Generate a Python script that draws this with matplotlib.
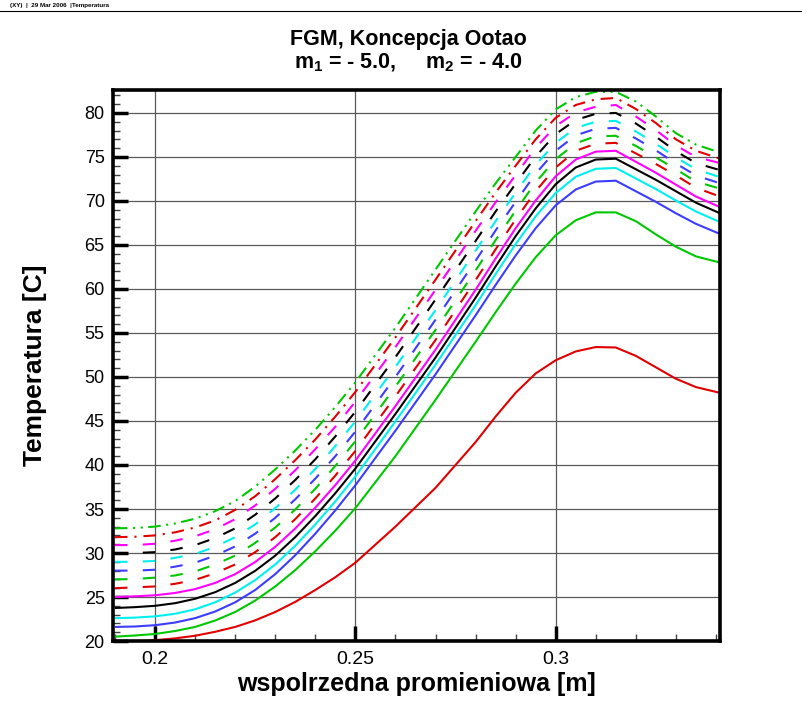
import matplotlib
matplotlib.use("Agg")
import matplotlib.pyplot as plt
from matplotlib.lines import Line2D
from matplotlib.ticker import MultipleLocator

plt.rcParams["font.family"] = ["Liberation Sans", "DejaVu Sans"]
plt.rcParams["mathtext.fontset"] = "custom"
plt.rcParams["mathtext.rm"] = "Liberation Sans:bold"
plt.rcParams["mathtext.it"] = "Liberation Sans:bold"
plt.rcParams["mathtext.bf"] = "Liberation Sans:bold"
plt.rcParams["lines.scale_dashes"] = False

# radial coordinate [m]
x = [0.19, 0.195, 0.20, 0.205, 0.21, 0.215, 0.22, 0.225, 0.23, 0.235, 0.24,
     0.245, 0.25, 0.26, 0.27, 0.28, 0.285, 0.29, 0.295, 0.30, 0.305, 0.31,
     0.315, 0.32, 0.325, 0.33, 0.335, 0.341]

# temperature profiles [C]
t_red = [19.8, 19.9, 20.1, 20.3, 20.6, 21.05, 21.6, 22.35, 23.3, 24.45, 25.8,
         27.25, 28.9, 33.0, 37.4, 42.6, 45.5, 48.2, 50.4, 51.9, 52.9, 53.4,
         53.35, 52.4, 51.1, 49.8, 48.85, 48.2]
t_green = [20.5, 20.63, 20.8, 21.14, 21.6, 22.33, 23.3, 24.6, 26.2, 28.06, 30.2,
           32.54, 35.1, 41.0, 47.4, 54.0, 57.35, 60.6, 63.6, 66.1, 67.8, 68.7,
           68.7, 67.7, 66.2, 64.8, 63.7, 63.0]
t_blue = [21.6, 21.65, 21.8, 22.1, 22.6, 23.35, 24.4, 25.8, 27.6, 29.75, 32.2,
          34.85, 37.7, 43.9, 50.3, 57.0, 60.45, 63.8, 66.9, 69.5, 71.3, 72.2,
          72.3, 71.1, 69.9, 68.6, 67.4, 66.25]
t_cyan = [22.6, 22.66, 22.8, 23.1, 23.6, 24.4, 25.5, 26.93, 28.7, 30.83, 33.25,
          35.87, 38.7, 44.95, 51.4, 58.15, 61.7, 65.1, 68.25, 70.9, 72.75, 73.65,
          73.75, 72.55, 71.35, 70.05, 68.8, 67.6]
t_black = [23.75, 23.85, 24.0, 24.3, 24.8, 25.55, 26.6, 27.98, 29.7, 31.81, 34.2,
           36.8, 39.6, 45.8, 52.2, 59.0, 62.55, 66.0, 69.15, 71.9, 73.8, 74.7,
           74.8, 73.6, 72.4, 71.1, 69.8, 68.6]
t_magenta = [25.0, 25.08, 25.2, 25.46, 25.9, 26.6, 27.6, 28.98, 30.7, 32.79, 35.15,
             37.72, 40.5, 46.7, 53.1, 59.9, 63.45, 66.9, 70.05, 72.8, 74.7, 75.6,
             75.7, 74.45, 73.2, 71.85, 70.5, 69.3]
t_red_d = [26.0, 26.1, 26.2, 26.5, 26.95, 27.7, 28.7, 30.1, 31.8, 33.85, 36.2,
           38.8, 41.6, 47.8, 54.2, 61.0, 64.5, 67.9, 71.1, 73.8, 75.7, 76.5,
           76.6, 75.4, 74.2, 72.9, 71.5, 70.5]
t_green_d = [27.0, 27.05, 27.2, 27.45, 27.9, 28.7, 29.7, 31.15, 32.9, 34.95, 37.3,
             39.9, 42.7, 48.9, 55.35, 62.1, 65.55, 68.9, 72.1, 74.75, 76.55, 77.35,
             77.4, 76.25, 74.95, 73.6, 72.2, 71.4]
t_blue_d = [28.0, 28.0, 28.1, 28.45, 28.9, 29.7, 30.75, 32.2, 34.0, 36.1, 38.45,
            41.0, 43.8, 50.0, 56.5, 63.2, 66.65, 69.9, 73.1, 75.7, 77.45, 78.2,
            78.3, 77.1, 75.75, 74.25, 72.9, 72.0]
t_cyan_d = [29.0, 29.0, 29.1, 29.45, 29.9, 30.7, 31.8, 33.25, 35.1, 37.2, 39.55,
            42.15, 44.95, 51.15, 57.6, 64.35, 67.7, 70.95, 74.1, 76.6, 78.3, 79.0,
            79.1, 77.9, 76.5, 74.95, 73.6, 72.7]
t_black_d = [30.0, 30.0, 30.1, 30.4, 30.9, 31.7, 32.8, 34.35, 36.2, 38.3, 40.65,
             43.25, 46.05, 52.25, 58.8, 65.45, 68.8, 71.95, 75.05, 77.6, 79.2, 79.9,
             80.0, 78.8, 77.3, 75.65, 74.3, 73.5]
t_magenta_d = [30.9, 30.9, 31.05, 31.4, 31.9, 32.7, 33.85, 35.4, 37.3, 39.4, 41.8,
               44.35, 47.2, 53.4, 59.9, 66.6, 69.85, 72.95, 76.05, 78.5, 80.05, 80.7,
               80.9, 79.6, 78.05, 76.3, 75.0, 74.3]
t_red_dd = [31.8, 31.85, 32.0, 32.35, 32.9, 33.7, 34.9, 36.45, 38.4, 40.55, 42.9,
            45.5, 48.3, 54.5, 61.05, 67.7, 70.95, 74.0, 77.0, 79.45, 80.9, 81.55,
            81.7, 80.45, 78.85, 77.0, 75.7, 74.8]
t_green_ddd = [32.8, 32.85, 33.0, 33.35, 33.9, 34.75, 35.9, 37.55, 39.5, 41.65, 44.0,
               46.6, 49.4, 55.6, 62.2, 68.8, 72.0, 75.0, 78.0, 80.4, 81.8, 82.4,
               82.4, 81.3, 79.6, 77.7, 76.4, 75.5]

x_ticks = [0.2, 0.25, 0.3]
x_tick_labels = ["0.2", "0.25", "0.3"]
y_ticks = [20, 25, 30, 35, 40, 45, 50, 55, 60, 65, 70, 75, 80]

RED, GREEN, BLUE, CYAN, BLACK, MAGENTA = ("#e00000", "#00c800", "#3c3cff",
                                          "#00f0f0", "#000000", "#ff00ff")
SOLID = "-"
DASH = (0, (9, 11))
DASHDOT = (0, (9, 5, 1.5, 5))
DASHDOTDOT = (0, (9, 4, 1.5, 4, 1.5, 4))

series = [
    (t_red, RED, SOLID), (t_green, GREEN, SOLID), (t_blue, BLUE, SOLID),
    (t_cyan, CYAN, SOLID), (t_black, BLACK, SOLID), (t_magenta, MAGENTA, SOLID),
    (t_red_d, RED, DASH), (t_green_d, GREEN, DASH), (t_blue_d, BLUE, DASH),
    (t_cyan_d, CYAN, DASH), (t_black_d, BLACK, DASH), (t_magenta_d, MAGENTA, DASH),
    (t_red_dd, RED, DASHDOT), (t_green_ddd, GREEN, DASHDOTDOT),
]

fig = plt.figure(figsize=(8.03, 7.18), dpi=100)
ax = fig.add_axes([0.1407, 0.1072, 0.7559, 0.7674])

for values, color, style in series:
    ax.plot(x, values, color=color, linestyle=style, linewidth=1.5,
            solid_capstyle="butt", dash_capstyle="butt", solid_joinstyle="round")

ax.set_xlim(0.1895, 0.341)
ax.set_ylim(20, 82.6)
ax.set_xticks(x_ticks)
ax.set_xticklabels(x_tick_labels)
ax.set_yticks(y_ticks)
ax.xaxis.set_minor_locator(MultipleLocator(0.01))
ax.yaxis.set_minor_locator(MultipleLocator(1))
ax.grid(True, which="major", color="#5a5a5a", linewidth=0.9)
ax.set_axisbelow(True)

ax.tick_params(which="major", direction="in", length=11, width=2.5,
               left=True, bottom=True, right=False, top=False, pad=6)
ax.tick_params(axis="y", which="major", labelsize=13)
ax.tick_params(axis="x", which="major", labelsize=14, pad=7)
ax.tick_params(which="minor", direction="in", length=5, width=1.0,
               left=True, bottom=True, right=False, top=False, color="#444444")
for spine in ax.spines.values():
    spine.set_linewidth(2.6)

ax.set_ylabel("Temperatura [C]", fontsize=19, fontweight="bold", labelpad=27)
ax.set_xlabel("wspolrzedna promieniowa [m]", fontsize=18, fontweight="bold",
              labelpad=3)

fig.text(0.508, 1 - 40 / 718, "FGM, Koncepcja Ootao", ha="center", va="center",
         fontsize=15.5, fontweight="bold")
fig.text(0.508, 1 - 63 / 718, r"m$_1$ = - 5.0,     m$_2$ = - 4.0", ha="center",
         va="center", fontsize=15.5, fontweight="bold")

fig.text(0.012, 1 - 5 / 718, "(XY)  |  29 Mar 2006  |Temperatura", ha="left",
         va="center", fontsize=4.5, fontweight="bold")
fig.add_artist(Line2D([0, 1], [1 - 10.5 / 718] * 2, transform=fig.transFigure,
                      color="black", linewidth=0.8))

fig.savefig("out.png", dpi=100)
